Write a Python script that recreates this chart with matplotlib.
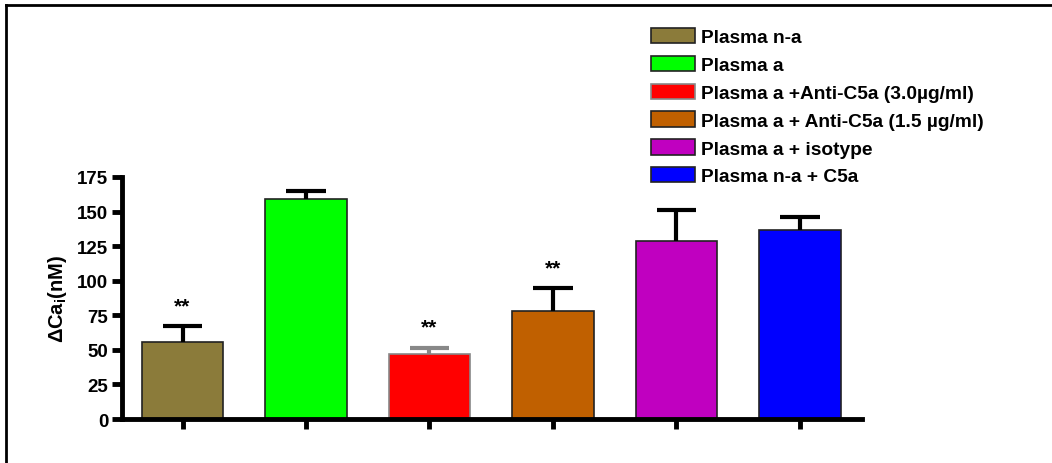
import matplotlib.pyplot as plt
from matplotlib.lines import Line2D
from matplotlib.patches import Patch

plt.rcParams['font.family'] = ['Liberation Sans', 'DejaVu Sans']
plt.rcParams['font.weight'] = 'bold'
plt.rcParams['mathtext.fontset'] = 'custom'
plt.rcParams['mathtext.rm'] = 'Liberation Sans:bold'
plt.rcParams['mathtext.bf'] = 'Liberation Sans:bold'

groups = ['Plasma n-a', 'Plasma a', 'Plasma a +Anti-C5a (3.0\u00b5g/ml)',
          'Plasma a + Anti-C5a (1.5 \u00b5g/ml)', 'Plasma a + isotype', 'Plasma n-a + C5a']
means = [56, 159, 47, 78, 129, 137]
errors = [11, 6, 4.5, 16.5, 22, 9]
stars = ['**', '', '**', '**', '', '']
colors = ['#8b7b3a', '#00ff00', '#ff0000', '#c06000', '#c000c0', '#0000ff']
edges = ['#222222', '#222222', '#888888', '#222222', '#222222', '#222222']
errcolors = ['black', 'black', '#888888', 'black', 'black', 'black']

fig = plt.figure(figsize=(10.52, 4.64), dpi=100)
ax = fig.add_axes([0.116, 0.0948, 0.703, 0.5216])

x = list(range(len(groups)))
for i in x:
    ax.bar(i, means[i], width=0.66, color=colors[i], edgecolor=edges[i], linewidth=1.2, zorder=2)
    top = means[i] + errors[i]
    ax.plot([i, i], [means[i], top], color=errcolors[i], lw=3, zorder=3, solid_capstyle='butt')
    ax.plot([i - 0.16, i + 0.16], [top, top], color=errcolors[i], lw=3, zorder=3, solid_capstyle='butt')
    if stars[i]:
        ax.text(i, top + 15, stars[i], ha='center', va='center', fontsize=15)

ax.set_xlim(-0.49, 5.5)
ax.set_ylim(0, 175)
ax.set_yticks([0, 25, 50, 75, 100, 125, 150, 175])
ax.set_xticks(x)
ax.set_xticklabels([])
ax.tick_params(axis='both', direction='out', width=3.5, length=7, labelsize=13.5)
ax.tick_params(axis='y', pad=3)
for s in ['top', 'right']:
    ax.spines[s].set_visible(False)
for s in ['left', 'bottom']:
    ax.spines[s].set_linewidth(3.5)
ax.set_ylabel('\u0394Ca' + r'$_\mathbf{i}$' + '(nM)', fontsize=14.5, fontweight='bold', labelpad=6)

handles = [Patch(facecolor=c, edgecolor=e, linewidth=1.2) for c, e in zip(colors, edges)]
fig.legend(handles, groups, loc='upper left', bbox_to_anchor=(0.602, 0.975), frameon=False,
           fontsize=13.8, handlelength=2.3, handleheight=0.85, labelspacing=0.5,
           handletextpad=0.35)

# outer frame (top and left only)
fig.add_artist(Line2D([0.006, 0.006], [0.0, 0.987], transform=fig.transFigure, color='black', lw=2))
fig.add_artist(Line2D([0.006, 1.0], [0.987, 0.987], transform=fig.transFigure, color='black', lw=2))

fig.savefig('out.png', dpi=100)
